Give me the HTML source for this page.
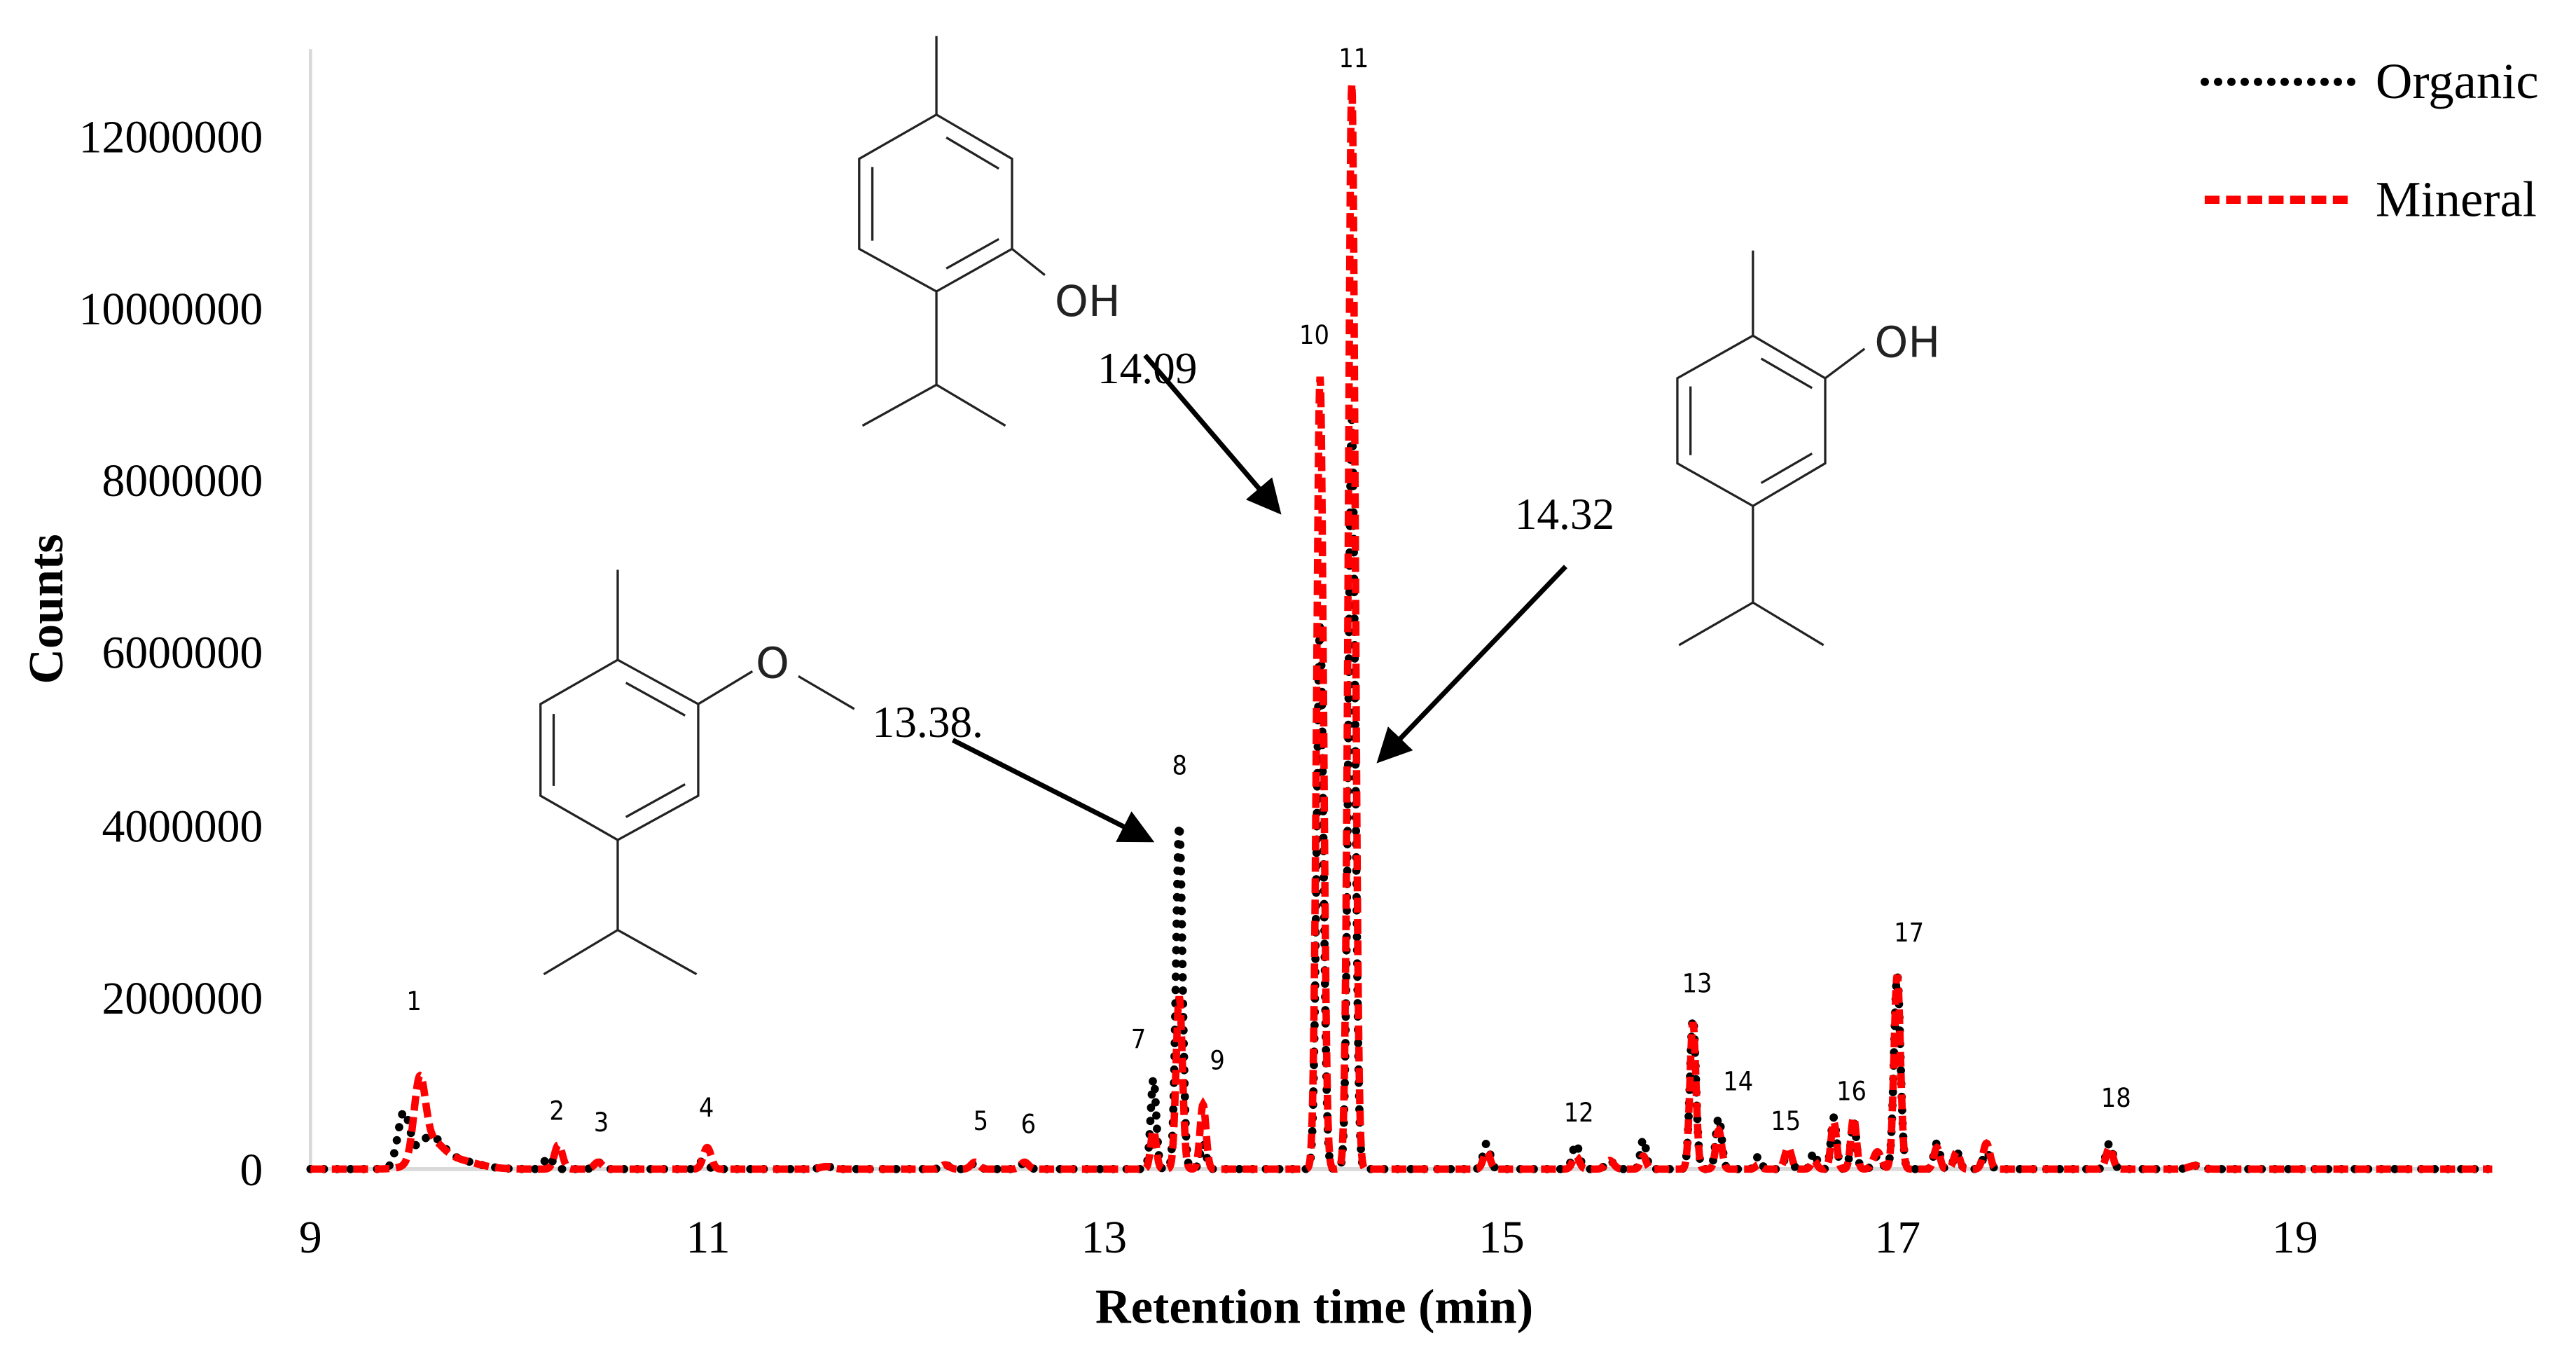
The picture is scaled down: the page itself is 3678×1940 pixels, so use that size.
<!DOCTYPE html>
<html><head><meta charset="utf-8"><style>
html,body{margin:0;padding:0;background:#fff;}
svg{display:block;}
.n{font-family:"DejaVu Sans Condensed","Liberation Sans",sans-serif;font-size:16px;fill:#000;}
.s{font-family:"Liberation Serif",serif;fill:#000;}
.m{stroke:#222;stroke-width:1.4;fill:none;}
</style></head><body>
<svg id="c" width="3678" height="1940" viewBox="0 0 1568 830" preserveAspectRatio="none" xmlns="http://www.w3.org/2000/svg">
<line x1="189" y1="30" x2="189" y2="714" stroke="#d9d9d9" stroke-width="2"/>
<line x1="189" y1="714" x2="1517" y2="714" stroke="#d9d9d9" stroke-width="2.5"/>
<g class="s" font-size="28" text-anchor="end">
<text x="160" y="93">12000000</text>
<text x="160" y="198">10000000</text>
<text x="160" y="303">8000000</text>
<text x="160" y="408">6000000</text>
<text x="160" y="514">4000000</text>
<text x="160" y="619">2000000</text>
<text x="160" y="724">0</text>
</g>
<g class="s" font-size="28" text-anchor="middle">
<text x="189" y="765">9</text><text x="431" y="765">11</text><text x="672" y="765">13</text>
<text x="914" y="765">15</text><text x="1155" y="765">17</text><text x="1397" y="765">19</text>
</g>
<text class="s" font-size="30" font-weight="bold" x="800" y="808" text-anchor="middle">Retention time (min)</text>
<text class="s" font-size="30" font-weight="bold" transform="translate(38,372) rotate(-90)" text-anchor="middle">Counts</text>
<path id="org" fill="none" stroke="#000" stroke-width="5" stroke-linecap="round" stroke-dasharray="0.1 8"/>
<path id="min" fill="none" stroke="#f00" stroke-width="4.5" stroke-dasharray="9 4"/>
<g class="n" text-anchor="middle">
<text x="252" y="617">1</text><text x="339" y="684">2</text><text x="366" y="691">3</text><text x="430" y="682">4</text>
<text x="597" y="690">5</text><text x="626" y="692">6</text><text x="693" y="640">7</text><text x="718" y="473">8</text>
<text x="741" y="653">9</text><text x="800" y="210">10</text><text x="824" y="41">11</text><text x="961" y="685">12</text>
<text x="1033" y="606">13</text><text x="1058" y="666">14</text><text x="1087" y="690">15</text><text x="1127" y="672">16</text>
<text x="1162" y="575">17</text><text x="1288" y="676">18</text>
</g>
<line x1="1342" y1="50" x2="1432" y2="50" stroke="#000" stroke-width="5" stroke-linecap="round" stroke-dasharray="0.1 8"/>
<text class="s" font-size="31" x="1446" y="60">Organic</text>
<line x1="1342" y1="122" x2="1432" y2="122" stroke="#f00" stroke-width="5" stroke-dasharray="9 4"/>
<text class="s" font-size="31" x="1446" y="132">Mineral</text>
<defs><marker id="ah" markerWidth="7" markerHeight="7" refX="6" refY="3.5" orient="auto" markerUnits="strokeWidth"><path d="M0,0 L7,3.5 L0,7 z" fill="#000"/></marker></defs>
<g stroke="#000" stroke-width="3" marker-end="url(#ah)">
<line x1="697" y1="217" x2="778" y2="312"/>
<line x1="953" y1="346" x2="840" y2="464"/>
<line x1="580" y1="452" x2="700" y2="513"/>
</g>
<g class="s" font-size="27">
<text x="668" y="234">14.09</text><text x="922" y="323">14.32</text><text x="531" y="450">13.38.</text>
</g>
<g class="m">
<line x1="570" y1="22" x2="570" y2="70"/>
<polygon points="570,70 616,97 616,152 570,178 523,152 523,97"/>
<line x1="531" y1="102" x2="531" y2="147"/><line x1="576" y1="84" x2="608" y2="103"/><line x1="576" y1="164" x2="608" y2="146"/>
<line x1="616" y1="152" x2="636" y2="168"/>
<line x1="570" y1="178" x2="570" y2="235"/><line x1="570" y1="235" x2="525" y2="260"/><line x1="570" y1="235" x2="612" y2="260"/>
</g>
<text font-family="DejaVu Sans,sans-serif" font-size="26" fill="#222" x="642" y="193">OH</text>
<g class="m">
<line x1="1067" y1="153" x2="1067" y2="205"/>
<polygon points="1067,205 1111,231 1111,283 1067,309 1021,283 1021,231"/>
<line x1="1029" y1="236" x2="1029" y2="278"/><line x1="1072" y1="219" x2="1103" y2="237"/><line x1="1072" y1="295" x2="1103" y2="277"/>
<line x1="1111" y1="231" x2="1135" y2="213"/>
<line x1="1067" y1="309" x2="1067" y2="368"/><line x1="1067" y1="368" x2="1022" y2="394"/><line x1="1067" y1="368" x2="1110" y2="394"/>
</g>
<text font-family="DejaVu Sans,sans-serif" font-size="26" fill="#222" x="1141" y="218">OH</text>
<g class="m">
<line x1="376" y1="348" x2="376" y2="403"/>
<polygon points="376,403 425,430 425,486 376,513 329,486 329,430"/>
<line x1="337" y1="436" x2="337" y2="480"/><line x1="381" y1="417" x2="417" y2="437"/><line x1="381" y1="499" x2="417" y2="479"/>
<line x1="425" y1="430" x2="458" y2="410"/>
<line x1="486" y1="413" x2="520" y2="433"/>
<line x1="376" y1="513" x2="376" y2="568"/><line x1="376" y1="568" x2="331" y2="595"/><line x1="376" y1="568" x2="424" y2="595"/>
</g>
<text font-family="DejaVu Sans,sans-serif" font-size="26" fill="#222" x="460" y="414">O</text>
</svg>
<script>
(function(){
var X=function(t){return 189+(t-9)*120.73;};
var Y=function(v){return 714-v*52.6;};
var P=[[9.47,0.62,0,0.03],[9.55,0,0.85,0.028],[9.6,0.3,0.25,0.06],[9.7,0.12,0.12,0.12],
[10.2,0.15,0,0.02],[10.25,0,0.28,0.02],[10.45,0.08,0.08,0.02],[10.98,0.1,0,0.02],[11.0,0,0.25,0.02],
[11.6,0.03,0.03,0.03],[12.2,0.05,0.05,0.02],[12.35,0.07,0.08,0.02],[12.6,0.07,0.08,0.02],
[13.25,1.05,0.45,0.014],[13.38,4.0,2.0,0.016],[13.5,0.3,0.75,0.015],
[14.09,6.3,9.2,0.017],[14.25,8.7,12.6,0.017],
[14.93,0.3,0.2,0.017],[15.38,0.3,0.15,0.017],[15.55,0.1,0.1,0.02],[15.72,0.35,0.15,0.014],
[15.97,1.75,1.7,0.015],[16.1,0.6,0.45,0.015],[16.3,0.15,0.05,0.014],[16.45,0.2,0.25,0.017],[16.58,0.2,0.1,0.014],
[16.68,0.6,0.55,0.014],[16.78,0.55,0.6,0.014],[16.9,0.15,0.2,0.02],[17.0,2.25,2.25,0.016],
[17.2,0.3,0.25,0.015],[17.3,0.2,0.2,0.015],[17.45,0.2,0.3,0.017],[18.07,0.3,0.25,0.017],[18.5,0.04,0.04,0.03]];
function f(t,k){var s=0;for(var i=0;i<P.length;i++){var p=P[i],d=(t-p[0])/p[3];if(Math.abs(d)<6)s+=p[k]*Math.exp(-0.5*d*d);}return s;}
function build(k){var d="";for(var t=9;t<=20.0001;t+=0.0025){d+=(d?"L":"M")+X(t).toFixed(2)+","+Y(f(t,k)).toFixed(2);}return d;}
document.getElementById("org").setAttribute("d",build(1));
document.getElementById("min").setAttribute("d",build(2));
})();
</script>
</body></html>
